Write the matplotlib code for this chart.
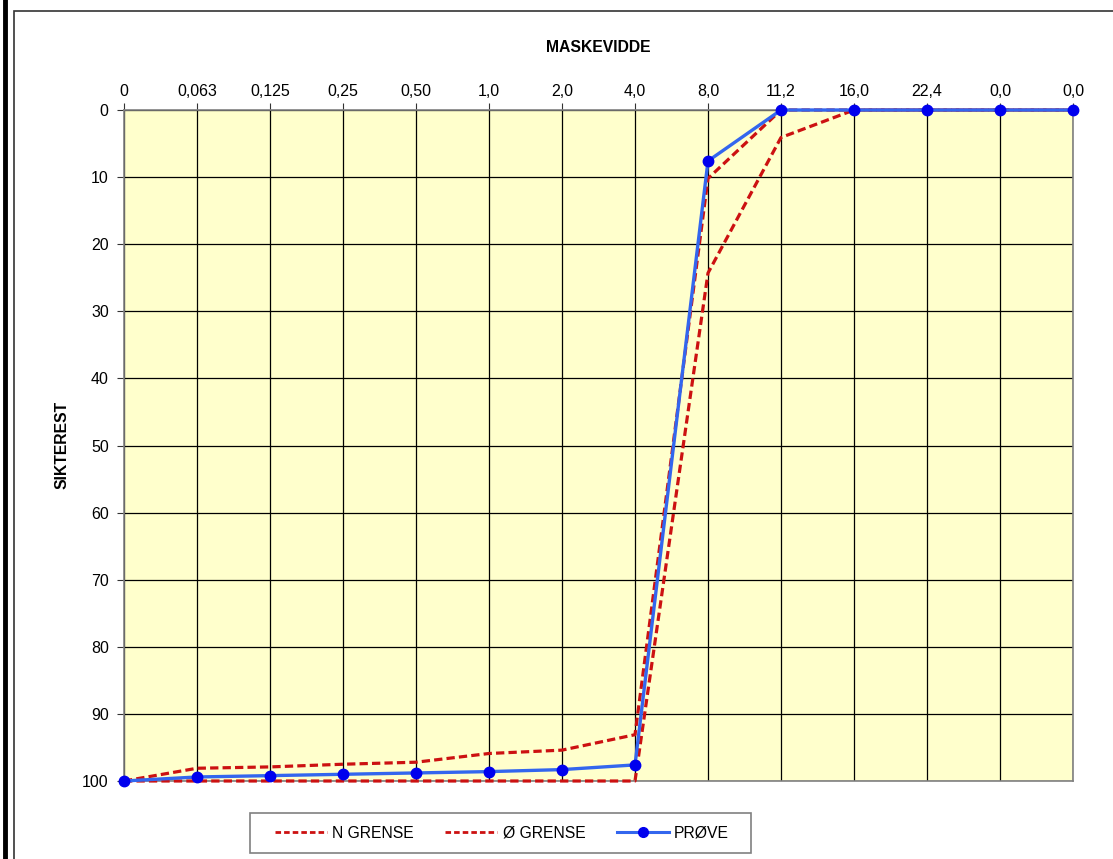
"""Siktekurve: sikterest mot maskevidde"""
import matplotlib
matplotlib.use("Agg")
import matplotlib.pyplot as plt
from matplotlib.lines import Line2D
from matplotlib.patches import Rectangle

plt.rcParams['font.family'] = ['Liberation Sans', 'DejaVu Sans']

# %% data
maskevidde = ['0', '0,063', '0,125', '0,25', '0,50', '1,0', '2,0', '4,0',
              '8,0', '11,2', '16,0', '22,4', '0,0', '0,0']
n_grense = [100, 98.1, 97.9, 97.5, 97.2, 95.9, 95.4, 93.1, 10.2, 0, 0, 0, 0, 0]
o_grense = [100, 100, 100, 100, 100, 100, 100, 100, 24.3, 4.1, 0, 0, 0, 0]
prove = [100, 99.4, 99.2, 99.0, 98.8, 98.6, 98.3, 97.6, 7.6, 0, 0, 0, 0, 0]
y_ticks = list(range(0, 101, 10))

# %% figure
W, H = 1113, 859
fig = plt.figure(figsize=(W / 100, H / 100), dpi=100)

# outer frame
fig.add_artist(Line2D([5 / W, 5 / W], [0, 1], color='black', lw=3.5))
fig.add_artist(Rectangle((14 / W, -0.1), 1.2, 1 - 11 / H + 0.1, fill=False,
                         edgecolor='#333333', lw=1.2))

left, right, top, bottom = 124, 1073, 110, 781
ax = fig.add_axes([left / W, 1 - bottom / H, (right - left) / W, (bottom - top) / H])
ax.set_facecolor('#FFFFCC')

x = list(range(len(maskevidde)))
red = '#CC1111'
dash = (0, (2.6, 1.3))
ax.plot(x, o_grense, color=red, ls=dash, lw=2.3, clip_on=False, zorder=3)
ax.plot(x, n_grense, color=red, ls=dash, lw=2.3, clip_on=False, zorder=3)
ax.plot(x, prove, color='#3366EE', lw=2.4, marker='o', ms=7.5, mfc='#0000EE',
        mec='#0000EE', clip_on=False, zorder=4)

ax.set_xlim(0, len(maskevidde) - 1)
ax.set_ylim(100, 0)
ax.set_xticks(x)
ax.set_xticklabels(maskevidde)
ax.set_yticks(y_ticks)
ax.xaxis.tick_top()
ax.tick_params(axis='both', labelsize=11.5, length=5, width=0.8, color='#333333')
ax.tick_params(axis='x', pad=3)
ax.tick_params(axis='y', pad=6)
ax.grid(True, color='black', lw=0.9)
ax.set_axisbelow(True)
for s in ax.spines.values():
    s.set_color('#808080')
    s.set_linewidth(1.2)

fig.text((left + right) / 2 / W, 1 - 48 / H, 'MASKEVIDDE', ha='center', va='center',
         fontsize=11.3, fontweight='bold')
fig.text(62 / W, 1 - 445 / H, 'SIKTEREST', ha='center', va='center', rotation=90,
         fontsize=11.3, fontweight='bold')

# legend with its own box
fig.add_artist(Rectangle((250 / W, 1 - 853 / H), 501 / W, 40 / H, facecolor='white',
                         edgecolor='#808080', lw=1.2))
handles = [
    Line2D([], [], color=red, ls=(0, (2.0, 1.1)), lw=2.0),
    Line2D([], [], color=red, ls=(0, (2.0, 1.1)), lw=2.0),
    Line2D([], [], color='#3366EE', lw=2.2, marker='o', ms=7, mfc='#0000EE', mec='#0000EE'),
]
fig.legend(handles, ['N GRENSE', 'Ø GRENSE', 'PRØVE'], loc='center', ncol=3,
           bbox_to_anchor=(502 / W, 1 - 833 / H), fontsize=11.3, frameon=False,
           handlelength=3.3, columnspacing=2.0, handletextpad=0.35)

fig.savefig('out.png', dpi=100)
